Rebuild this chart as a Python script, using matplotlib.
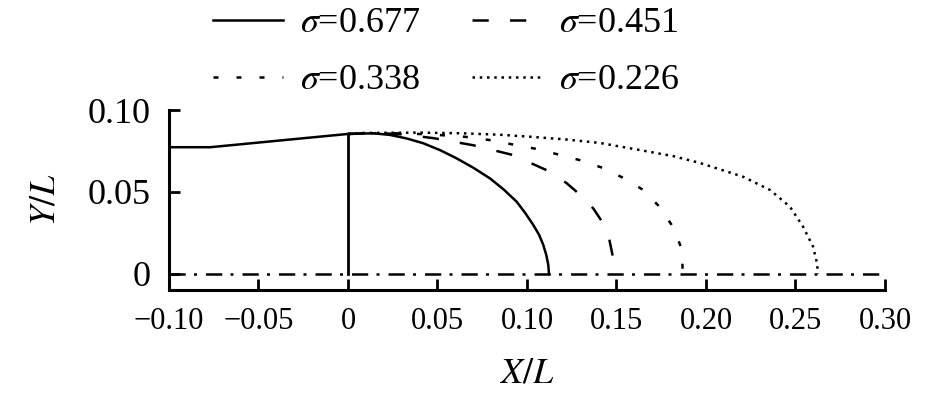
import matplotlib
matplotlib.use('Agg')
import matplotlib.pyplot as plt
from matplotlib.lines import Line2D

plt.rcParams['font.family'] = 'Liberation Serif'
plt.rcParams['mathtext.fontset'] = 'stix'

# sigma = 0.677 (solid) incl. upstream body contour
x_677 = [-0.10, -0.077, 0.0, 0.0142, 0.0235, 0.033, 0.0421, 0.0515, 0.0607, 0.070, 0.0793,
         0.087, 0.0942, 0.099, 0.1035, 0.1068, 0.1091, 0.1108, 0.1119, 0.1123]
y_677 = [0.0773, 0.0773, 0.0854, 0.0858, 0.0848, 0.0826, 0.0797, 0.0755, 0.0705, 0.0648, 0.0583,
         0.0515, 0.0441, 0.0372, 0.0299, 0.0238, 0.0177, 0.0115, 0.0055, 0.0]

# sigma = 0.451 (dashed)
x_451 = [0.0, 0.015, 0.030, 0.048, 0.070, 0.092, 0.112, 0.122, 0.130, 0.137, 0.1425, 0.146, 0.148, 0.1495]
y_451 = [0.0854, 0.0860, 0.0852, 0.0828, 0.0785, 0.0726, 0.0628, 0.0555, 0.0480, 0.0400, 0.0310, 0.0210, 0.0104, 0.0]

# sigma = 0.338 (sparse dashes)
x_338 = [0.0, 0.020, 0.045, 0.065, 0.079, 0.092, 0.1056, 0.117, 0.131, 0.1425, 0.154, 0.165, 0.174, 0.182, 0.1866, 0.187]
y_338 = [0.0854, 0.0860, 0.0852, 0.0837, 0.0817, 0.0790, 0.0762, 0.0730, 0.0690, 0.0646, 0.0585, 0.0512, 0.0410, 0.0280, 0.0146, 0.0]

# sigma = 0.226 (dotted)
x_226 = [0.0, 0.0084, 0.040, 0.064, 0.085, 0.1017, 0.122, 0.1408, 0.165, 0.182, 0.1966, 0.2207,
         0.2358, 0.2469, 0.2542, 0.2598, 0.262, 0.2626]
y_226 = [0.0854, 0.0860, 0.0862, 0.0858, 0.0849, 0.0837, 0.0820, 0.0799, 0.0752, 0.0718, 0.0677, 0.0593,
         0.0512, 0.0410, 0.0289, 0.0167, 0.0067, 0.0]

x_ticks = [-0.10, -0.05, 0, 0.05, 0.10, 0.15, 0.20, 0.25, 0.30]
x_labels = ['\u22120.10', '\u22120.05', '0', '0.05', '0.10', '0.15', '0.20', '0.25', '0.30']
y_ticks = [0, 0.05, 0.10]
y_labels = ['0', '0.05', '0.10']

ls_451 = (0, (6.5, 8.5))
ls_338 = (0, (2.0, 7.2))
ls_226 = (0, (1.0, 1.9))
ls_axis = (0, (6.5, 3.3, 1.2, 3.6))

fig = plt.figure(figsize=(9.45, 3.97), dpi=100)
ax = fig.add_axes([0.1788, 0.2695, 0.7577, 0.4534])

lw = 1.8
ax.plot([-0.10, 0.297], [0, 0], color='black', lw=lw, linestyle=ls_axis)
ax.plot([0, 0], [0, 0.0854], color='black', lw=2.0)
ax.plot(x_677, y_677, color='black', lw=lw, linestyle='-')
ax.plot(x_451, y_451, color='black', lw=lw, linestyle=ls_451)
ax.plot(x_338, y_338, color='black', lw=lw, linestyle=ls_338)
ax.plot(x_226, y_226, color='black', lw=lw, linestyle=ls_226)

ax.set_xlim(-0.10, 0.30)
ax.set_ylim(-0.0098, 0.10)
ax.spines['top'].set_visible(False)
ax.spines['right'].set_visible(False)
ax.spines['left'].set_bounds(-0.0098, 0.10)
for s in ['left', 'bottom']:
    ax.spines[s].set_linewidth(2.2)

ax.set_xticks(x_ticks)
ax.set_xticklabels(x_labels, fontsize=22)
ax.set_yticks(y_ticks)
ax.set_yticklabels(y_labels, fontsize=26)
ax.tick_params(axis='both', direction='in', length=8, width=2)
ax.tick_params(axis='x', pad=12)
ax.tick_params(axis='y', pad=13)

ax.set_xlabel('$X/L$', fontsize=26, labelpad=16)
ax.set_ylabel('$Y/L$', fontsize=26, labelpad=18)

handles = [
    Line2D([], [], color='black', lw=lw, linestyle='-'),
    Line2D([], [], color='black', lw=lw, linestyle=ls_338),
    Line2D([], [], color='black', lw=lw, linestyle=ls_451),
    Line2D([], [], color='black', lw=lw, linestyle=ls_226),
]
labels = ['$\\sigma$=0.677', '$\\sigma$=0.338', '$\\sigma$=0.451', '$\\sigma$=0.226']
fig.legend(handles, labels, loc='upper left', bbox_to_anchor=(0.2254, 0.982), ncol=2,
           frameon=False, fontsize=26, handlelength=1.95, handletextpad=0.47,
           columnspacing=1.41, labelspacing=0.65, borderpad=0, borderaxespad=0)

fig.savefig('out.png', dpi=100)
